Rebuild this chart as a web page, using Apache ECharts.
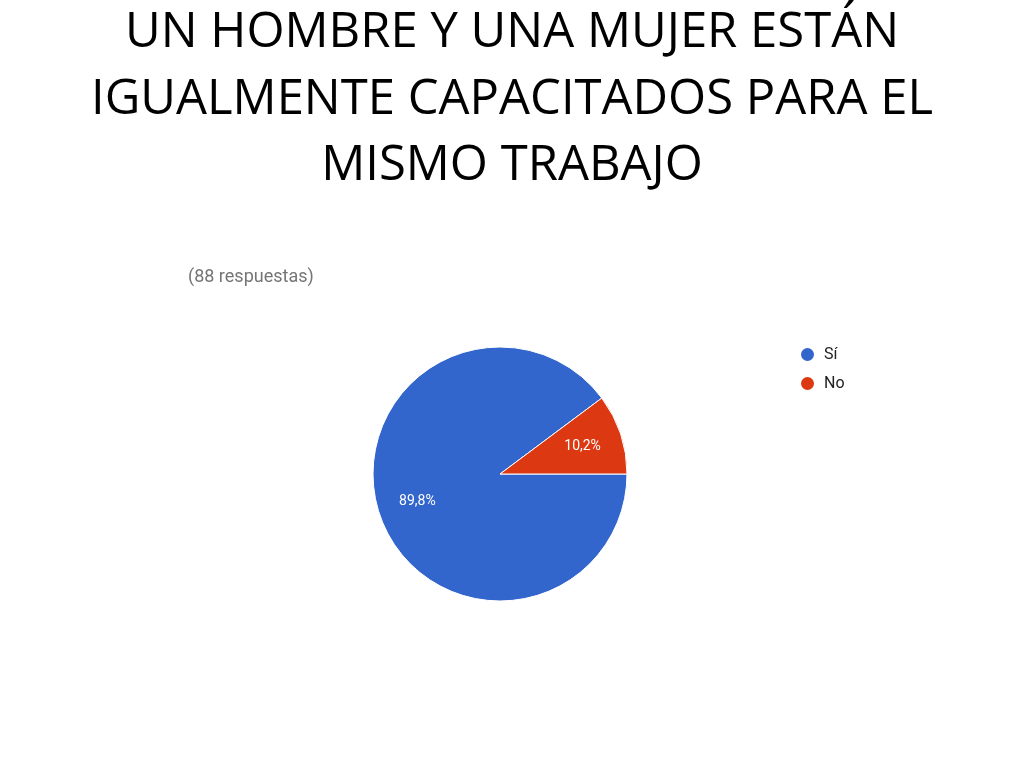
<!DOCTYPE html>
<html><head><meta charset="utf-8">
<script src="https://cdn.jsdelivr.net/npm/echarts@6/dist/echarts.min.js"></script>
<style>html,body{margin:0;padding:0;background:#fff}#c{width:1024px;height:768px}</style>
</head><body><div id="c"></div>
<script>
const titleText = 'UN HOMBRE Y UNA MUJER ESTÁN\nIGUALMENTE CAPACITADOS PARA EL\nMISMO TRABAJO';
const subtitleText = '(88 respuestas)';
const categories = ['Sí', 'No'];
const values = [89.8, 10.2];
const labels = ['89,8%', '10,2%'];
const colors = ['#3366cc', '#dc3912'];

const data = categories.map((c, i) => ({ name: c, value: values[i], itemStyle: { color: colors[i] } }));
const chart = echarts.init(document.getElementById('c'));
chart.setOption({
  animation: false,
  title: [{
    text: titleText, left: 'center', top: 0, padding: 0,
    textStyle: { fontFamily: 'Open Sans', fontSize: 49, fontWeight: 'normal', color: '#000', lineHeight: 66.5 }
  }, {
    text: subtitleText, left: 183, top: 263,
    textStyle: { fontFamily: 'Roboto', fontSize: 18, fontWeight: 'normal', color: '#757575' }
  }],
  legend: {
    orient: 'vertical', left: 794, top: 341, itemGap: 12,
    icon: 'circle', itemWidth: 15, itemHeight: 15,
    data: categories,
    textStyle: { fontFamily: 'Roboto', fontSize: 16, color: '#222', padding: [0, 0, 0, 4] }
  },
  series: [{
    type: 'pie', center: [500, 474], radius: 127, startAngle: 0, clockwise: true,
    data: data,
    itemStyle: { borderColor: '#fff', borderWidth: 1 },
    label: { show: false }, labelLine: { show: false }, silent: true
  }, {
    type: 'pie', center: [500, 474], radius: [41, 127], startAngle: 0, clockwise: true,
    data: categories.map((c, i) => ({ name: c, value: values[i], itemStyle: { color: 'rgba(0,0,0,0)' } })),
    itemStyle: { color: 'rgba(0,0,0,0)' },
    label: { show: true, position: 'inner', formatter: p => labels[p.dataIndex],
      color: '#fff', fontFamily: 'Roboto', fontSize: 14 },
    labelLine: { show: false }, silent: true, legendHoverLink: false
  }]
});
</script></body></html>
